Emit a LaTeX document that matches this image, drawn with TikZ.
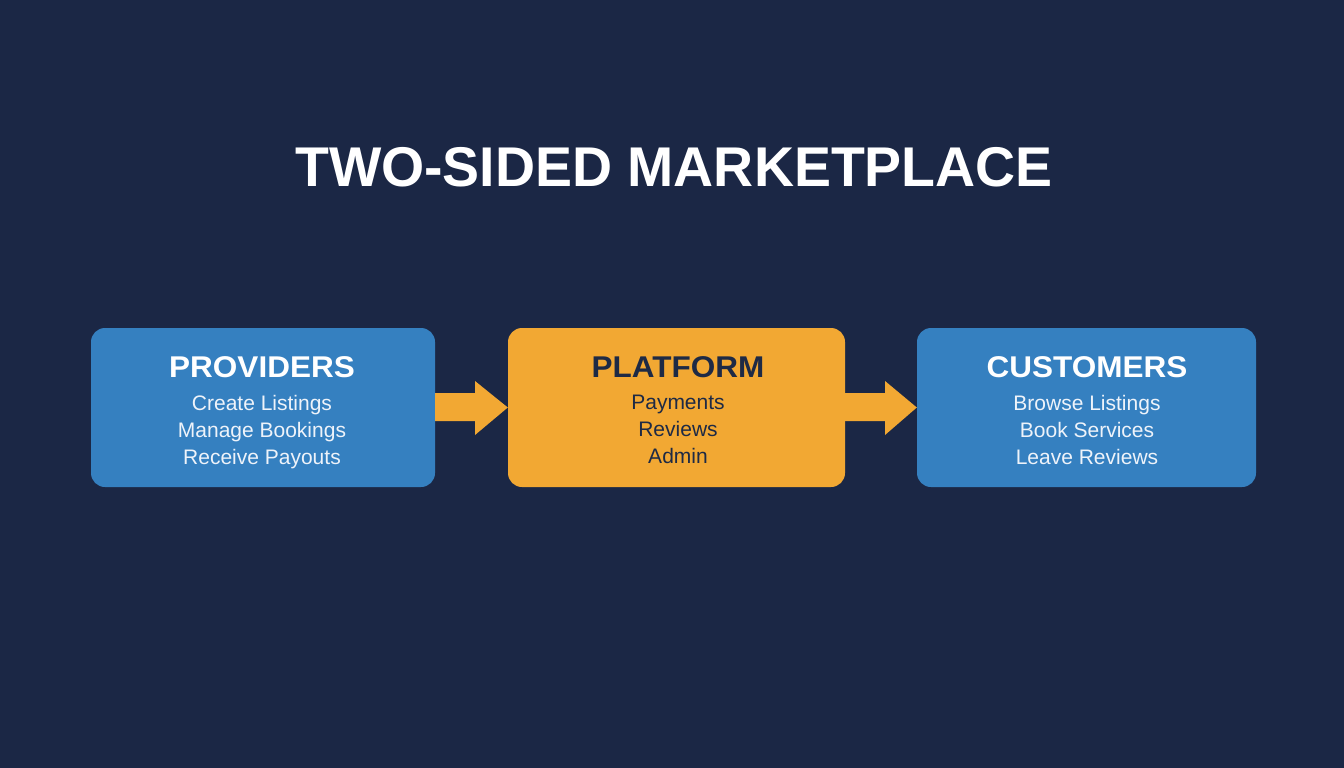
\documentclass[tikz,border=0pt]{standalone}
\usepackage{fontspec}
\setmainfont{Liberation Sans}
\definecolor{bg}{HTML}{1B2745}
\definecolor{boxblue}{HTML}{3580C0}
\definecolor{boxorange}{HTML}{F2A833}
\definecolor{navy}{HTML}{1E2A45}
\definecolor{lighttxt}{HTML}{EEF3FA}
\tikzset{
  card/.style={rounded corners=14pt, minimum width=#1, minimum height=159pt, inner sep=0pt},
  bluecard/.style={card=#1, fill=boxblue},
  orangecard/.style={card=#1, fill=boxorange},
  head/.style={font=\bfseries\fontsize{30}{30}\selectfont, inner sep=0pt, anchor=base},
  body/.style={font=\fontsize{21}{27}\selectfont, align=center, inner sep=0pt, anchor=north},
  flow/.style={fill=boxorange},
}
\begin{document}
\begin{tikzpicture}[x=1pt,y=-1pt]
\fill[bg] (0,0) rectangle (1344,768);
\useasboundingbox (0,0) rectangle (1344,768);
\node[font=\bfseries\fontsize{56}{56}\selectfont, text=white, inner sep=0pt, anchor=base] (title) at (674,186) {\scalebox{0.99}[1]{TWO-SIDED MARKETPLACE}};

\node[bluecard=344pt] (prov) at (263,407.5) {};
\node[orangecard=337pt] (plat) at (676.5,407.5) {};
\node[bluecard=339pt] (cust) at (1086.5,407.5) {};

\node[head, text=white] (provh) at (262,377) {\scalebox{1.05}[1]{PROVIDERS}};
\node[body, text=lighttxt] (provb) at (262,395) {Create Listings\\Manage Bookings\\Receive Payouts};
\node[head, text=navy] (plath) at (678,377) {\scalebox{1.05}[1]{PLATFORM}};
\node[body, text=navy] (platb) at (678,395) {Payments\\Reviews\\Admin};
\node[head, text=white] (custh) at (1087,377) {\scalebox{1.05}[1]{CUSTOMERS}};
\node[body, text=lighttxt] (custb) at (1087,395) {Browse Listings\\Book Services\\Leave Reviews};

\fill[flow] (prov.east |- 0,393) -- (475,393) -- (475,381) -- (plat.west |- 0,407.5) -- (475,435) -- (475,421) -- (prov.east |- 0,421) -- cycle;
\fill[flow] (plat.east |- 0,393) -- (885,393) -- (885,381) -- (cust.west |- 0,407.5) -- (885,435) -- (885,421) -- (plat.east |- 0,421) -- cycle;
\end{tikzpicture}
\end{document}
